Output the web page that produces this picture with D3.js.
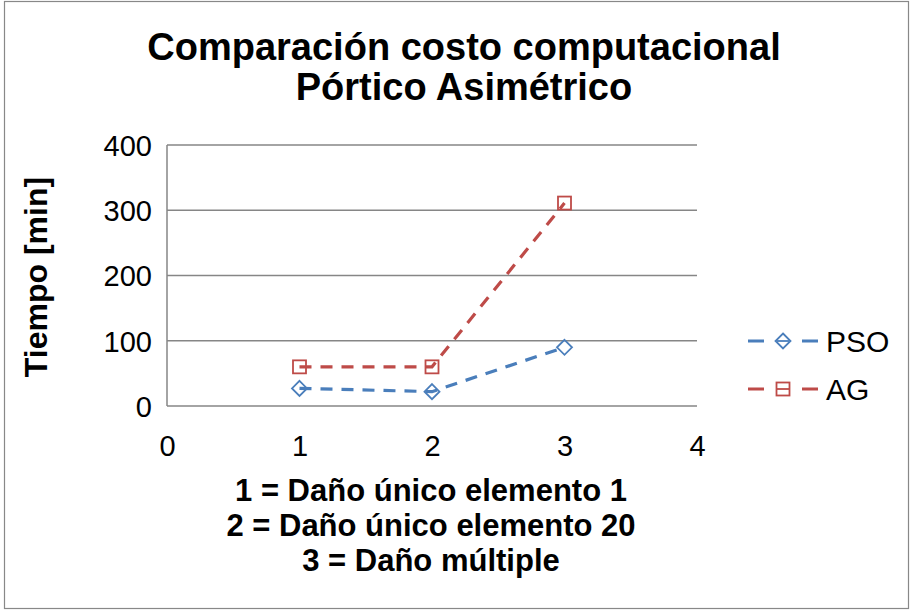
<!DOCTYPE html>
<html><head><meta charset="utf-8">
<script src="https://cdn.jsdelivr.net/npm/d3@7"></script>
<style>body{margin:0;background:#fff}svg{display:block}svg text{font-family:"Liberation Sans",Arial,sans-serif}</style>
</head><body>
<svg id="c" width="911" height="611"></svg>
<script>
const xCats = [1, 2, 3];
const psoValues = [27, 22, 90];
const agValues = [60, 60, 311];
const xTicks = [0, 1, 2, 3, 4];
const yTicks = [0, 100, 200, 300, 400];
const seriesNames = ["PSO", "AG"];
const titleLines = ["Comparación costo computacional", "Pórtico Asimétrico"];
const xTitleLines = ["1 = Daño único elemento 1", "2 = Daño único elemento 20", "3 = Daño múltiple"];
const yTitle = "Tiempo [min]";

const FONT = '"Liberation Sans",Arial,sans-serif';
const svg = d3.select("#c");
svg.append("rect").attr("x",4.5).attr("y",1.5).attr("width",904).attr("height",607)
  .attr("fill","#fff").attr("stroke","#888").attr("stroke-width",1.2);

const x = d3.scaleLinear().domain([0,4]).range([167,697]);
const y = d3.scaleLinear().domain([0,400]).range([406,145]);

// gridlines
svg.append("g").selectAll("line").data(yTicks).join("line")
  .attr("x1",x(0)).attr("x2",x(4)).attr("y1",d=>y(d)).attr("y2",d=>y(d))
  .attr("stroke","#868686").attr("stroke-width",1.5);
svg.append("line").attr("x1",x(0)).attr("x2",x(0)).attr("y1",y(0)).attr("y2",y(400))
  .attr("stroke","#868686").attr("stroke-width",1.5);

const yAxis = svg.append("g").attr("transform",`translate(${x(0)},0)`)
  .call(d3.axisLeft(y).tickValues(yTicks).tickFormat(d3.format("d")).tickSize(0).tickPadding(15));
yAxis.select(".domain").remove();
yAxis.attr("font-family",FONT);
yAxis.selectAll("text").attr("font-size",29).attr("fill","#000").attr("dy","0.36em");
const xAxis = svg.append("g").attr("transform",`translate(0,${y(0)})`)
  .call(d3.axisBottom(x).tickValues(xTicks).tickFormat(d3.format("d")).tickSize(0).tickPadding(0));
xAxis.select(".domain").remove();
xAxis.attr("font-family",FONT);
xAxis.selectAll("text").attr("font-size",29).attr("fill","#000").attr("dy",0).attr("y",50);

const colors = ["#4a7ebb","#be4b48"];
const data = [psoValues, agValues];
const line = d3.line().x((d,i)=>x(xCats[i])).y(d=>y(d));
data.forEach((vals,s)=>{
  svg.append("path").datum(vals).attr("d",line).attr("fill","none")
    .attr("stroke",colors[s]).attr("stroke-width",3.2).attr("stroke-dasharray","12,9");
});
function marker(g, s, cx, cy){
  if(s===0){
    g.append("path").attr("d",`M${cx},${cy-7.5}L${cx+7.5},${cy}L${cx},${cy+7.5}L${cx-7.5},${cy}Z`)
      .attr("fill","none").attr("stroke",colors[0]).attr("stroke-width",1.8);
  } else {
    g.append("rect").attr("x",cx-6.5).attr("y",cy-6.5).attr("width",13).attr("height",13)
      .attr("fill","none").attr("stroke",colors[1]).attr("stroke-width",1.8);
  }
}
const mg = svg.append("g");
data.forEach((vals,s)=>vals.forEach((v,i)=>marker(mg,s,x(xCats[i]),y(v))));

// legend
const leg = svg.append("g");
seriesNames.forEach((n,s)=>{
  const ly = 341 + s*48;
  leg.append("line").attr("x1",748).attr("x2",818).attr("y1",ly).attr("y2",ly)
    .attr("stroke",colors[s]).attr("stroke-width",3.2).attr("stroke-dasharray","16,38,16");
  leg.append("line").attr("x1",777).attr("x2",789).attr("y1",ly).attr("y2",ly)
    .attr("stroke",colors[s]).attr("stroke-width",1.8);
  marker(leg,s,783,ly);
  leg.append("text").attr("x",826).attr("y",ly+11).attr("font-size",30).attr("font-family",FONT).text(n);
});

// titles
svg.append("g").selectAll("text").data(titleLines).join("text")
  .attr("x",464).attr("y",(d,i)=>60+i*40).attr("text-anchor","middle")
  .attr("font-size",38).attr("font-weight","bold").attr("font-family",FONT).text(d=>d);
svg.append("g").selectAll("text").data(xTitleLines).join("text")
  .attr("x",431).attr("y",(d,i)=>501+i*35).attr("text-anchor","middle")
  .attr("font-size",31).attr("font-weight","bold").attr("font-family",FONT).text(d=>d);
svg.append("text").attr("transform","translate(47,277) rotate(-90)").attr("text-anchor","middle")
  .attr("font-size",32).attr("font-weight","bold").attr("font-family",FONT).text(yTitle);
</script>
</body></html>
